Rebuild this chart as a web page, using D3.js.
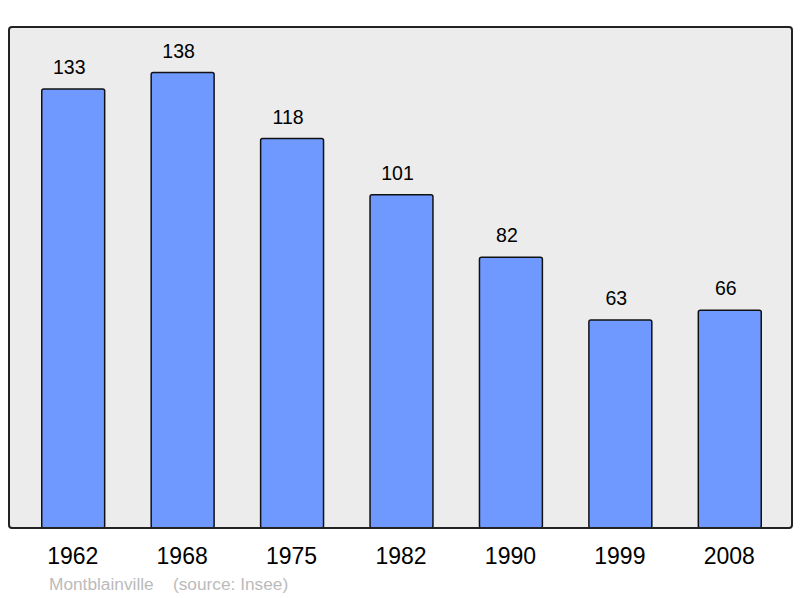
<!DOCTYPE html>
<html><head><meta charset="utf-8">
<script src="https://cdn.jsdelivr.net/npm/d3@7"></script>
<style>body{margin:0;background:#fff}svg{display:block}</style>
</head><body>
<script>
const years = ["1962","1968","1975","1982","1990","1999","2008"];
const population = [133,138,118,101,82,63,66];
const commune = "Montblainville";
const source = "(source: Insee)";

const W = 800, H = 598;
const frame = {x0: 9, y0: 27, x1: 792, y1: 528};
const svg = d3.select("body").append("svg").attr("width", W).attr("height", H);

svg.append("rect")
  .attr("x", frame.x0).attr("y", frame.y0)
  .attr("width", frame.x1 - frame.x0).attr("height", frame.y1 - frame.y0)
  .attr("rx", 3).attr("fill", "#ececec");

const x = d3.scaleBand().domain(years).range([18, 784]).padding(0);
const y = d3.scaleLinear().domain([0, d3.max(population) * 1.1]).range([frame.y1, frame.y0]);
const bw = x.bandwidth() * 0.575;

const g = svg.append("g");
g.selectAll("rect.bar").data(years).join("rect").attr("class", "bar")
  .attr("x", d => x(d) + x.bandwidth()/2 - bw/2 + 0.5)
  .attr("y", (d,i) => y(population[i]))
  .attr("width", bw)
  .attr("height", (d,i) => y(0) - y(population[i]))
  .attr("rx", 2)
  .attr("fill", "#7099ff").attr("stroke", "#111").attr("stroke-width", 1.5);

g.selectAll("text.val").data(years).join("text").attr("class", "val")
  .attr("x", d => x(d) + x.bandwidth()/2 - 3.5)
  .attr("y", (d,i) => y(population[i]) - 15)
  .attr("text-anchor", "middle")
  .attr("font-family", "Liberation Sans, Arial, sans-serif").attr("font-size", 19.5)
  .attr("fill", "#000")
  .text((d,i) => population[i]);

svg.append("rect")
  .attr("x", frame.x0).attr("y", frame.y0)
  .attr("width", frame.x1 - frame.x0).attr("height", frame.y1 - frame.y0)
  .attr("rx", 3).attr("fill", "none").attr("stroke", "#222").attr("stroke-width", 2);

const axis = d3.axisBottom(x).tickSize(0).tickPadding(0);
const ag = svg.append("g").attr("transform", `translate(0,${frame.y1})`).call(axis);
ag.select(".domain").remove();
ag.selectAll("text")
  .attr("y", 36).attr("dy", null)
  .attr("font-family", "Liberation Sans, Arial, sans-serif").attr("font-size", 23)
  .attr("fill", "#000");

svg.append("text")
  .attr("x", 49).attr("y", 590)
  .attr("font-family", "Liberation Sans, Arial, sans-serif").attr("font-size", 17.3)
  .attr("fill", "#bbbbbb")
  .attr("xml:space", "preserve")
  .text(commune + "    " + source);
</script>
</body></html>
